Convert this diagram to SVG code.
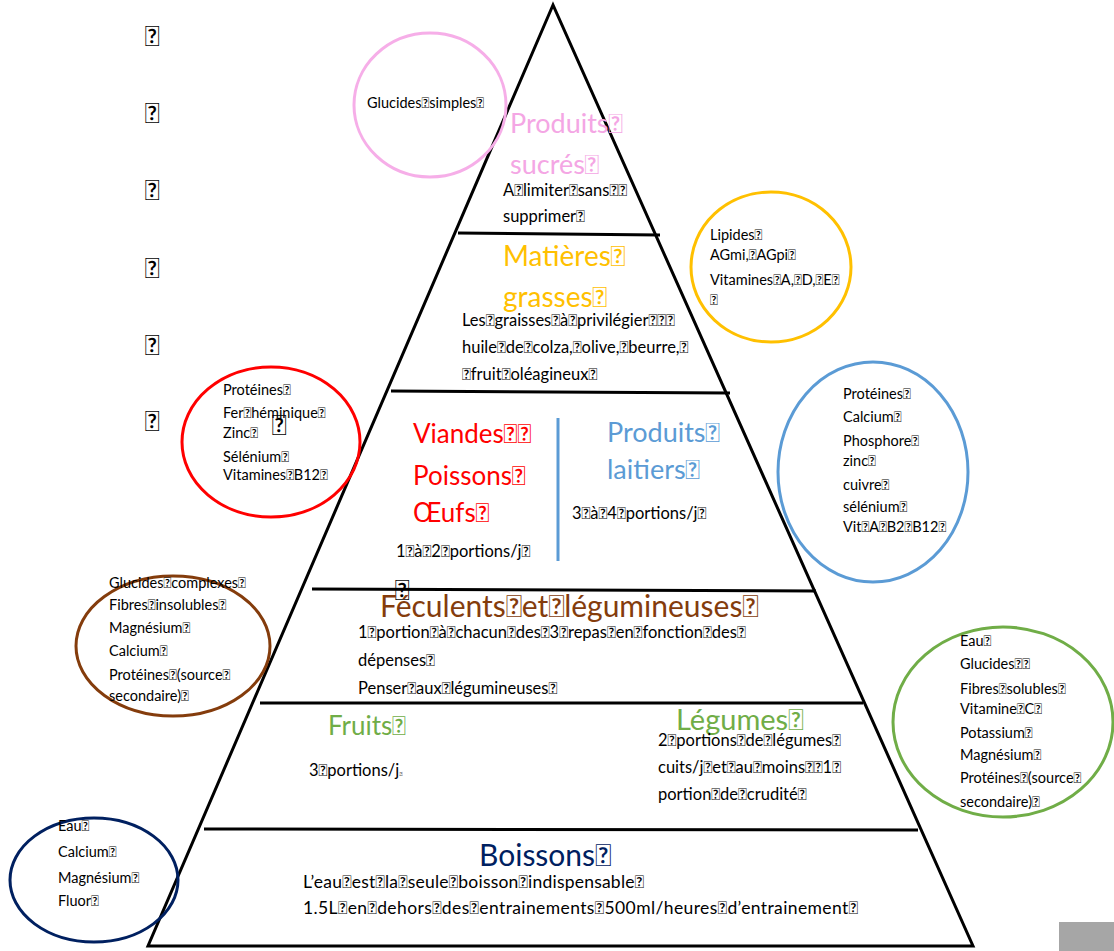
<svg xmlns="http://www.w3.org/2000/svg" width="1114" height="951" viewBox="0 0 1114 951">
<style>
text{font-family:Lato,"Liberation Sans",sans-serif;fill:#000}
.s{font-size:14.5px}
.m{font-size:16.5px}
.h{font-size:26px}
.box{font-size:28px}
.ln{stroke:#000;stroke-width:3;fill:none}
.c{fill:none;stroke-width:3}
</style>
<rect width="1114" height="951" fill="#fff"/>
<g id="pyramid">
<polygon class="ln" points="553,5 148,946 973,946"/>
<line class="ln" x1="458" y1="233" x2="660" y2="235"/>
<line class="ln" x1="391" y1="391" x2="730" y2="393"/>
<line class="ln" x1="312" y1="589" x2="816" y2="591"/>
<line class="ln" x1="260" y1="703" x2="863" y2="703"/>
<line class="ln" x1="204" y1="829" x2="918" y2="830"/>
<line x1="558" y1="418" x2="558" y2="561" stroke="#5B9BD5" stroke-width="3"/>
</g>
<g id="left-marks">
<text class="box" x="145" y="46">&#xF020;</text>
<text class="box" x="145" y="123">&#xF020;</text>
<text class="box" x="145" y="200">&#xF020;</text>
<text class="box" x="145" y="278">&#xF020;</text>
<text class="box" x="145" y="355">&#xF020;</text>
<text class="box" x="145" y="431">&#xF020;</text>
</g>
<g id="sucres">
<ellipse class="c" cx="430" cy="105" rx="76" ry="72" stroke="#F6AEE8"/>
<text class="s" x="367" y="108">Glucides&#xF020;simples&#xF020;</text>
<text class="h" x="510" y="133" style="fill:#F4A6E4;font-size:27px">Produits&#xF020;</text>
<text class="h" x="510" y="174" style="fill:#F4A6E4;font-size:27px">sucrés&#xF020;</text>
<text class="m" x="503" y="196">A&#xF020;limiter&#xF020;sans&#xF020;&#xF020;</text>
<text class="m" x="503" y="222">supprimer&#xF020;</text>
</g>
<g id="matieres">
<ellipse class="c" cx="771" cy="267" rx="80" ry="75" stroke="#FFC000"/>
<text class="s" x="710" y="240">Lipides&#xF020;</text>
<text class="s" x="710" y="260">AGmi,&#xF020;AGpi&#xF020;</text>
<text class="s" x="710" y="285">Vitamines&#xF020;A,&#xF020;D,&#xF020;E&#xF020;</text>
<text class="s" x="710" y="305">&#xF020;</text>
<text class="h" x="503" y="266" style="fill:#FFC000;font-size:28px">Matières&#xF020;</text>
<text class="h" x="503" y="307" style="fill:#FFC000;font-size:28px">grasses&#xF020;</text>
<text class="m" x="462" y="326">Les&#xF020;graisses&#xF020;à&#xF020;privilégier&#xF020;&#xF020;&#xF020;</text>
<text class="m" x="462" y="353">huile&#xF020;de&#xF020;colza,&#xF020;olive,&#xF020;beurre,&#xF020;</text>
<text class="m" x="462" y="380">&#xF020;fruit&#xF020;oléagineux&#xF020;</text>
</g>
<g id="viandes">
<ellipse class="c" cx="271" cy="442" rx="89" ry="75" stroke="#FF0000"/>
<text class="s" x="223" y="395">Protéines&#xF020;</text>
<text class="s" x="223" y="418">Fer&#xF020;héminique&#xF020;</text>
<text class="s" x="223" y="438">Zinc&#xF020;</text>
<text class="s" x="223" y="462">Sélénium&#xF020;</text>
<text class="s" x="223" y="480">Vitamines&#xF020;B12&#xF020;</text>
<text class="box" x="272" y="435">&#xF020;</text>
<text class="h" x="413" y="443" style="fill:#FF0000">Viandes&#xF020;&#xF020;</text>
<text class="h" x="413" y="485" style="fill:#FF0000">Poissons&#xF020;</text>
<text class="h" x="413" y="522" style="fill:#FF0000">Œufs&#xF020;</text>
<text class="m" x="396" y="557">1&#xF020;à&#xF020;2&#xF020;portions/j&#xF020;</text>
<text class="box" x="395" y="600">&#xF020;</text>
</g>
<g id="laitiers">
<ellipse class="c" cx="873" cy="472" rx="95" ry="110" stroke="#5B9BD5"/>
<text class="s" x="843" y="399">Protéines&#xF020;</text>
<text class="s" x="843" y="422">Calcium&#xF020;</text>
<text class="s" x="843" y="446">Phosphore&#xF020;</text>
<text class="s" x="843" y="466">zinc&#xF020;</text>
<text class="s" x="843" y="490">cuivre&#xF020;</text>
<text class="s" x="843" y="512">sélénium&#xF020;</text>
<text class="s" x="843" y="532">Vit&#xF020;A&#xF020;B2&#xF020;B12&#xF020;</text>
<text class="h" x="607" y="442" style="fill:#5B9BD5;font-size:27px">Produits&#xF020;</text>
<text class="h" x="607" y="479" style="fill:#5B9BD5;font-size:27px">laitiers&#xF020;</text>
<text class="m" x="572" y="519">3&#xF020;à&#xF020;4&#xF020;portions/j&#xF020;</text>
</g>
<g id="feculents">
<ellipse class="c" cx="173" cy="646" rx="97" ry="70" stroke="#843C0C"/>
<text class="s" x="109" y="588">Glucides&#xF020;complexes&#xF020;</text>
<text class="s" x="109" y="610">Fibres&#xF020;insolubles&#xF020;</text>
<text class="s" x="109" y="633">Magnésium&#xF020;</text>
<text class="s" x="109" y="656">Calcium&#xF020;</text>
<text class="s" x="109" y="680">Protéines&#xF020;(source&#xF020;</text>
<text class="s" x="109" y="701">secondaire)&#xF020;</text>
<text class="h" x="380" y="617" style="fill:#843C0C;font-size:30px">Féculents&#xF020;et&#xF020;légumineuses&#xF020;</text>
<text class="m" x="358" y="638">1&#xF020;portion&#xF020;à&#xF020;chacun&#xF020;des&#xF020;3&#xF020;repas&#xF020;en&#xF020;fonction&#xF020;des&#xF020;</text>
<text class="m" x="358" y="666">dépenses&#xF020;</text>
<text class="m" x="358" y="694">Penser&#xF020;aux&#xF020;légumineuses&#xF020;</text>
</g>
<g id="fruits-legumes">
<ellipse class="c" cx="1003" cy="722" rx="110" ry="95" stroke="#70AD47"/>
<text class="s" x="960" y="646">Eau&#xF020;</text>
<text class="s" x="960" y="669">Glucides&#xF020;&#xF020;</text>
<text class="s" x="960" y="694">Fibres&#xF020;solubles&#xF020;</text>
<text class="s" x="960" y="714">Vitamine&#xF020;C&#xF020;</text>
<text class="s" x="960" y="738">Potassium&#xF020;</text>
<text class="s" x="960" y="760">Magnésium&#xF020;</text>
<text class="s" x="960" y="783">Protéines&#xF020;(source&#xF020;</text>
<text class="s" x="960" y="807">secondaire)&#xF020;</text>
<text class="h" x="328" y="735" style="fill:#70AD47">Fruits&#xF020;</text>
<text class="m" x="309" y="776">3&#xF020;portions/j<tspan style="font-size:6px">&#xF020;</tspan></text>
<text class="h" x="676" y="730" style="fill:#70AD47;font-size:29px">Légumes&#xF020;</text>
<text class="m" x="658" y="746">2&#xF020;portions&#xF020;de&#xF020;légumes&#xF020;</text>
<text class="m" x="658" y="773">cuits/j&#xF020;et&#xF020;au&#xF020;moins&#xF020;&#xF020;1&#xF020;</text>
<text class="m" x="658" y="800">portion&#xF020;de&#xF020;crudité&#xF020;</text>
</g>
<g id="boissons">
<ellipse class="c" cx="94" cy="880" rx="84" ry="62" stroke="#002060"/>
<text class="s" x="58" y="831">Eau&#xF020;</text>
<text class="s" x="58" y="857">Calcium&#xF020;</text>
<text class="s" x="58" y="883">Magnésium&#xF020;</text>
<text class="s" x="58" y="906">Fluor&#xF020;</text>
<text class="h" x="479" y="866" style="fill:#002060;font-size:30px">Boissons&#xF020;</text>
<text class="m" x="303" y="888" style="font-size:17.5px" textLength="341">L’eau&#xF020;est&#xF020;la&#xF020;seule&#xF020;boisson&#xF020;indispensable&#xF020;</text>
<text class="m" x="303" y="914" style="font-size:17.5px" textLength="555">1.5L&#xF020;en&#xF020;dehors&#xF020;des&#xF020;entrainements&#xF020;500ml/heures&#xF020;d’entrainement&#xF020;</text>
</g>
<rect x="1059" y="922" width="55" height="29" fill="#A6A6A6"/>
</svg>
